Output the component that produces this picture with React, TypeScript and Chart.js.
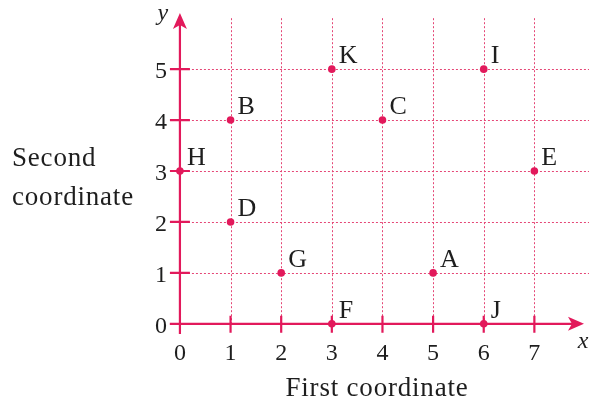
import React, { useEffect, useRef } from "react";
import { Chart, registerables } from "chart.js";

Chart.register(...registerables);

const pointNames = ["A", "B", "C", "D", "E", "F", "G", "H", "I", "J", "K"];
const pointX = [5, 1, 4, 1, 7, 3, 2, 0, 6, 6, 3];
const pointY = [1, 4, 4, 2, 3, 0, 1, 3, 5, 0, 5];
const xTicks = [0, 1, 2, 3, 4, 5, 6, 7];
const yTicks = [0, 1, 2, 3, 4, 5];
const xTitle = "First coordinate";
const yTitleLines = ["Second", "coordinate"];

const AXIS = "#e2195b";
const GRID = "#e54676";
const TEXT = "#1e1e1e";
const FONT = '"Liberation Serif", "Times New Roman", serif';

export default function App() {
  const ref = useRef<HTMLCanvasElement>(null);
  useEffect(() => {
    const canvas = ref.current;
    if (!canvas) return;
    const axesPlugin = {
      id: "axesPlugin",
      beforeDatasetsDraw(chart: any) {
        const ctx = chart.ctx;
        const xs = chart.scales.x;
        const ys = chart.scales.y;
        const x0 = xs.getPixelForValue(0);
        const y0 = ys.getPixelForValue(0);
        const gridTop = ys.getPixelForValue(6.0);
        const right = chart.width;
        ctx.save();
        // grid
        ctx.strokeStyle = GRID;
        ctx.lineWidth = 1;
        ctx.setLineDash([2, 2]);
        for (const v of xTicks) {
          if (v === 0) continue;
          const px = Math.round(xs.getPixelForValue(v)) + 0.5;
          ctx.beginPath();
          ctx.moveTo(px, gridTop);
          ctx.lineTo(px, y0);
          ctx.stroke();
        }
        for (const v of yTicks) {
          if (v === 0) continue;
          const py = Math.round(ys.getPixelForValue(v)) + 0.5;
          ctx.beginPath();
          ctx.moveTo(x0, py);
          ctx.lineTo(right, py);
          ctx.stroke();
        }
        ctx.setLineDash([]);
        // axes
        ctx.strokeStyle = AXIS;
        ctx.fillStyle = AXIS;
        ctx.lineWidth = 2.2;
        const xLeft = xs.getPixelForValue(-0.2);
        const xArrowTip = xs.getPixelForValue(7.98);
        const yBottom = ys.getPixelForValue(-0.2);
        const yArrowTip = ys.getPixelForValue(6.1);
        ctx.beginPath();
        ctx.moveTo(xLeft, y0);
        ctx.lineTo(xArrowTip - 8, y0);
        ctx.moveTo(x0, yBottom);
        ctx.lineTo(x0, yArrowTip + 8);
        // tick marks
        for (const v of xTicks) {
          if (v === 0) continue;
          const px = xs.getPixelForValue(v);
          ctx.moveTo(px, y0 - 8);
          ctx.lineTo(px, y0 + 9);
        }
        for (const v of yTicks) {
          if (v === 0) continue;
          const py = ys.getPixelForValue(v);
          ctx.moveTo(x0 - 10, py);
          ctx.lineTo(x0 + 10, py);
        }
        ctx.stroke();
        // arrowheads
        ctx.beginPath();
        ctx.moveTo(xArrowTip, y0);
        ctx.lineTo(xArrowTip - 16, y0 - 7);
        ctx.lineTo(xArrowTip - 12, y0);
        ctx.lineTo(xArrowTip - 16, y0 + 7);
        ctx.closePath();
        ctx.fill();
        ctx.beginPath();
        ctx.moveTo(x0, yArrowTip);
        ctx.lineTo(x0 - 7, yArrowTip + 16);
        ctx.lineTo(x0, yArrowTip + 12);
        ctx.lineTo(x0 + 7, yArrowTip + 16);
        ctx.closePath();
        ctx.fill();
        // tick labels
        ctx.fillStyle = TEXT;
        ctx.font = `24px ${FONT}`;
        ctx.textAlign = "center";
        ctx.textBaseline = "alphabetic";
        for (const v of xTicks) {
          ctx.fillText(String(v), xs.getPixelForValue(v), y0 + 36);
        }
        ctx.textAlign = "right";
        for (const v of yTicks) {
          ctx.fillText(String(v), x0 - 13, ys.getPixelForValue(v) + 9);
        }
        // axis letters
        ctx.font = `italic 24px ${FONT}`;
        ctx.textAlign = "center";
        ctx.fillText("y", x0 - 17, 20);
        ctx.fillText("x", xArrowTip - 1, y0 + 24);
        // titles
        ctx.font = `27px ${FONT}`;
        (ctx as any).letterSpacing = "0.8px";
        ctx.textAlign = "center";
        ctx.fillText(xTitle, 377, 396);
        ctx.textAlign = "left";
        ctx.fillText(yTitleLines[0], 12, 166);
        ctx.fillText(yTitleLines[1], 12, 205);
        (ctx as any).letterSpacing = "0px";
        ctx.restore();
      },
      afterDatasetsDraw(chart: any) {
        const ctx = chart.ctx;
        const xs = chart.scales.x;
        const ys = chart.scales.y;
        ctx.save();
        ctx.fillStyle = TEXT;
        ctx.font = `26px ${FONT}`;
        ctx.textAlign = "left";
        ctx.textBaseline = "alphabetic";
        pointNames.forEach((n, i) => {
          ctx.fillText(n, xs.getPixelForValue(pointX[i]) + 7, ys.getPixelForValue(pointY[i]) - 6);
        });
        ctx.restore();
      },
    };
    const chart = new Chart(canvas, {
      type: "scatter",
      data: {
        datasets: [
          {
            data: pointX.map((x, i) => ({ x, y: pointY[i] })),
            backgroundColor: AXIS,
            borderColor: AXIS,
            pointRadius: 3.8,
            borderWidth: 0,
          },
        ],
      },
      options: {
        animation: false,
        responsive: false,
        maintainAspectRatio: false,
        layout: { padding: { left: 169.8, right: 0, top: 8, bottom: 65 } },
        plugins: { legend: { display: false }, tooltip: { enabled: false } },
        scales: {
          x: { type: "linear", min: -0.2, max: 8.0, display: false },
          y: { type: "linear", min: -0.2, max: 6.2, display: false },
        },
      },
      plugins: [axesPlugin],
    });
    return () => chart.destroy();
  }, []);
  return (
    <div style={{ position: "fixed", left: 0, top: 0, width: 589, height: 399, background: "#ffffff" }}>
      <canvas ref={ref} width={589} height={399} style={{ width: 589, height: 399 }} />
    </div>
  );
}
